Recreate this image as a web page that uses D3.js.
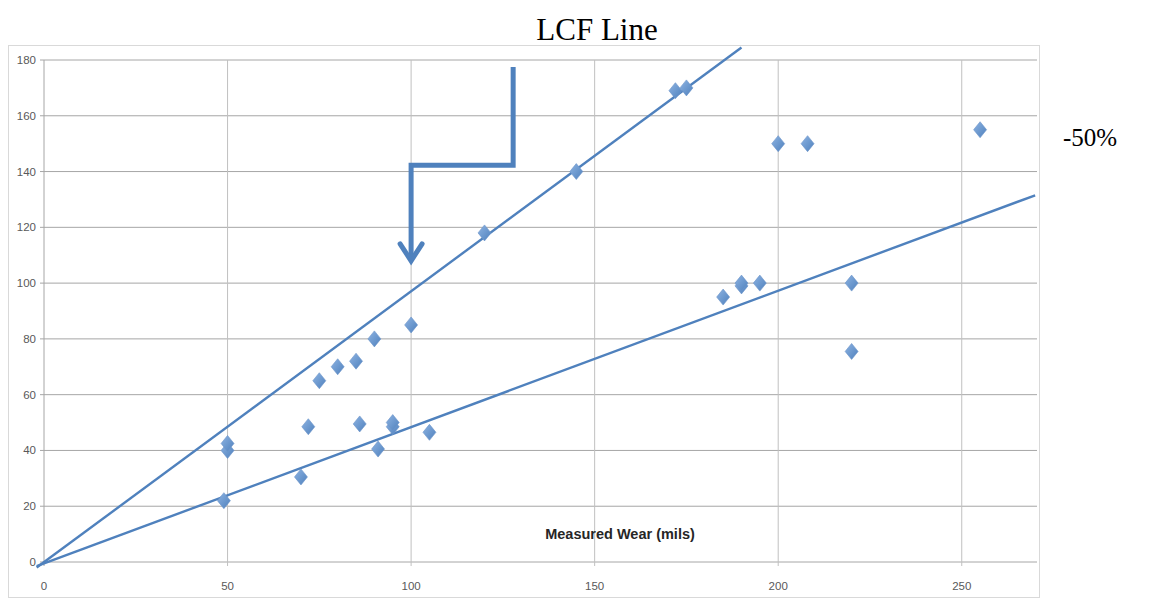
<!DOCTYPE html>
<html>
<head>
<meta charset="utf-8">
<script src="https://cdn.jsdelivr.net/npm/d3@7"></script>
<style>
  body { margin: 0; background: #fff; }
  svg { display: block; }
</style>
</head>
<body>
<script>
// measured wear (x) vs. reading (y)
const wearX = [49, 50, 50, 70, 72, 75, 80, 85, 86, 90, 91, 95, 95, 100, 105, 120, 145, 172, 175, 185, 190, 190, 195, 200, 208, 220, 220, 255];
const valueY = [22, 40, 42.5, 30.5, 48.5, 65, 70, 72, 49.5, 80, 40.5, 48.5, 50, 85, 46.5, 118, 140, 169, 170, 95, 99, 100, 100, 150, 150, 100, 75.5, 155];

const xTicks = [0, 50, 100, 150, 200, 250];
const yTicks = [0, 20, 40, 60, 80, 100, 120, 140, 160, 180];

// the two reference lines: [x0, y0, x1, y1]
const lcfLine = [-2, -2, 190, 184.5];
const halfLine = [-2, -1.5, 270, 131.5];

// annotation arrow in data units
const arrowPath = [[127.8, 177.5], [127.8, 142.3], [100, 142.3], [100, 108]];

const width = 1162, height = 600;
const margin = { top: 60, right: 125, bottom: 38, left: 44 };
const blue = "#4f81bd";

const svg = d3.select("body").append("svg")
    .attr("width", width)
    .attr("height", height);

const x = d3.scaleLinear().domain([0, 270.5]).range([margin.left, width - margin.right]);
const y = d3.scaleLinear().domain([0, 180]).range([height - margin.bottom, margin.top]);

// chart frame
svg.append("rect")
    .attr("x", 8.5).attr("y", 45.5)
    .attr("width", 1031).attr("height", 552)
    .attr("fill", "none")
    .attr("stroke", "#d9d9d9");

svg.append("defs").append("clipPath").attr("id", "plotclip")
    .append("rect")
    .attr("x", 9).attr("y", 46)
    .attr("width", x(270.5) - 9).attr("height", 550);

// gridlines
svg.append("g").selectAll("line")
    .data(yTicks)
    .join("line")
    .attr("x1", x(0) - 4).attr("x2", x(270.5))
    .attr("y1", d => y(d)).attr("y2", d => y(d))
    .attr("stroke", "#a6a6a6")
    .attr("stroke-width", 1);

svg.append("g").selectAll("line")
    .data(xTicks.filter(d => d > 0))
    .join("line")
    .attr("x1", d => x(d)).attr("x2", d => x(d))
    .attr("y1", y(180)).attr("y2", y(0) + 4)
    .attr("stroke", "#c0c0c0")
    .attr("stroke-width", 1);

svg.append("line")
    .attr("x1", x(0)).attr("x2", x(0))
    .attr("y1", y(180)).attr("y2", y(0) + 4)
    .attr("stroke", "#a6a6a6");

// tick labels
svg.append("g").selectAll("text")
    .data(yTicks)
    .join("text")
    .attr("x", x(0) - 8)
    .attr("y", d => y(d) + 4)
    .attr("text-anchor", "end")
    .attr("font-family", "Liberation Sans Narrow, Arial, sans-serif")
    .attr("font-size", 11.5)
    .attr("fill", "#595959")
    .text(d => d);

svg.append("g").selectAll("text")
    .data(xTicks)
    .join("text")
    .attr("x", d => x(d))
    .attr("y", y(0) + 28)
    .attr("text-anchor", "middle")
    .attr("font-family", "Liberation Sans Narrow, Arial, sans-serif")
    .attr("font-size", 11.5)
    .attr("fill", "#595959")
    .text(d => d);

svg.append("text")
    .attr("x", 620).attr("y", 539)
    .attr("text-anchor", "middle")
    .attr("font-family", "Liberation Sans Narrow, Arial, sans-serif")
    .attr("font-weight", "bold")
    .attr("font-size", 14.5)
    .attr("fill", "#262626")
    .text("Measured Wear (mils)");

// reference lines
svg.append("g").attr("clip-path", "url(#plotclip)")
    .selectAll("line")
    .data([lcfLine, halfLine])
    .join("line")
    .attr("x1", d => x(d[0])).attr("y1", d => y(d[1]))
    .attr("x2", d => x(d[2])).attr("y2", d => y(d[3]))
    .attr("stroke", blue)
    .attr("stroke-width", 2.4);

// diamond markers
const grad = svg.select("defs").append("linearGradient")
    .attr("id", "dia").attr("x1", 0).attr("y1", 0).attr("x2", 1).attr("y2", 1);
grad.append("stop").attr("offset", "0%").attr("stop-color", "#8db3e2");
grad.append("stop").attr("offset", "100%").attr("stop-color", "#4f81bd");

const diamond = "M0,-8 L6.5,0 L0,8 L-6.5,0 Z";
svg.append("g").selectAll("path")
    .data(wearX.map((d, i) => [d, valueY[i]]))
    .join("path")
    .attr("transform", d => `translate(${x(d[0])},${y(d[1])})`)
    .attr("d", diamond)
    .attr("fill", "url(#dia)")
    .attr("stroke", "#6b93c9")
    .attr("stroke-width", 0.6);

// annotation arrow
svg.append("path")
    .attr("d", d3.line().x(d => x(d[0])).y(d => y(d[1]))(arrowPath))
    .attr("fill", "none")
    .attr("stroke", blue)
    .attr("stroke-width", 5)
    .attr("stroke-linejoin", "miter");

const tip = arrowPath[arrowPath.length - 1];
svg.append("path")
    .attr("d", `M${x(tip[0]) - 11},${y(tip[1]) - 17} L${x(tip[0])},${y(tip[1])} L${x(tip[0]) + 11},${y(tip[1]) - 17}`)
    .attr("fill", "none")
    .attr("stroke", blue)
    .attr("stroke-width", 5)
    .attr("stroke-linecap", "round")
    .attr("stroke-linejoin", "miter");

// titles
svg.append("text")
    .attr("x", 597).attr("y", 40)
    .attr("text-anchor", "middle")
    .attr("font-family", "Liberation Serif, Times New Roman, serif")
    .attr("font-size", 31)
    .attr("fill", "#000")
    .text("LCF Line");

svg.append("text")
    .attr("x", 1063).attr("y", 146)
    .attr("font-family", "Liberation Serif, Times New Roman, serif")
    .attr("font-size", 25)
    .attr("fill", "#000")
    .text("-50%");
</script>
</body>
</html>
